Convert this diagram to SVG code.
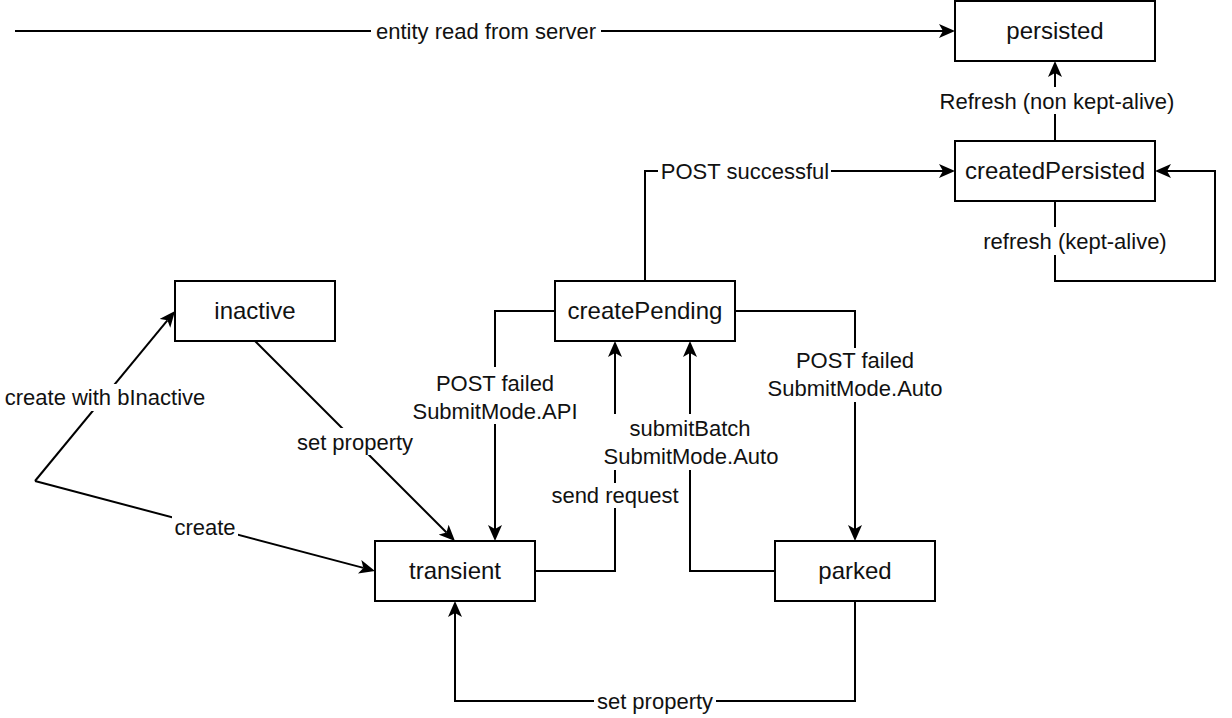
<svg xmlns="http://www.w3.org/2000/svg" width="1232" height="718" viewBox="0 0 1232 718">
<style>
.node rect{fill:#fff;stroke:#000;stroke-width:2}
.node text{font-family:"Liberation Sans",Arial,sans-serif;font-size:24px;fill:#111;text-anchor:middle}
.edge path{fill:none;stroke:#000;stroke-width:2;marker-end:url(#arr)}
.lbl rect{fill:#fff;stroke:none}
.lbl text{font-family:"Liberation Sans",Arial,sans-serif;font-size:22px;fill:#111;text-anchor:middle}
</style>
<defs>
<marker id="arr" markerUnits="userSpaceOnUse" markerWidth="16" markerHeight="14" viewBox="0 0 16 14" refX="4" refY="7" orient="auto">
<path d="M16,7 L0,0 L4,7 L0,14 Z" fill="#000"/>
</marker>
</defs>
<rect width="1232" height="718" fill="#fff"/>
<g id="connectors">
<g class="edge" id="e-read"><path d="M15,31 H943"/><g class="lbl"><rect x="371" y="18" width="230" height="26"/><text x="486" y="38.7">entity read from server</text></g></g>
<g class="edge" id="e-refresh-non"><path d="M1055,141 V73"/><g class="lbl"><rect x="937" y="87" width="240" height="27"/><text x="1057" y="108.7">Refresh (non kept-alive)</text></g></g>
<g class="edge" id="e-post-ok"><path d="M645,281 V171 H943"/><g class="lbl"><rect x="658" y="158" width="173" height="26"/><text x="745" y="178.7">POST successful</text></g></g>
<g class="edge" id="e-refresh-kept"><path d="M1055,201 V281 H1215 V171 H1167"/><g class="lbl"><rect x="980" y="227" width="190" height="28"/><text x="1075" y="248.7">refresh (kept-alive)</text></g></g>
<g class="edge" id="e-fail-api"><path d="M555,311 H495 V529"/><g class="lbl"><rect x="410" y="367" width="171" height="57"/><text x="495" y="390.7">POST failed</text><text x="495" y="418.7">SubmitMode.API</text></g></g>
<g class="edge" id="e-fail-auto"><path d="M735,311 H855 V529"/><g class="lbl"><rect x="765" y="348" width="180" height="54"/><text x="855" y="367.7">POST failed</text><text x="855" y="395.7">SubmitMode.Auto</text></g></g>
<g class="edge" id="e-send"><path d="M535,571 H615 V353"/><g class="lbl"><rect x="549" y="483" width="132" height="25"/><text x="615" y="502.7">send request</text></g></g>
<g class="edge" id="e-batch"><path d="M775,571 H690 V353"/><g class="lbl"><rect x="602" y="414" width="178" height="56"/><text x="690" y="436.2">submitBatch</text><text x="691" y="464.2">SubmitMode.Auto</text></g></g>
<g class="edge" id="e-parked-set"><path d="M855,601 V701 H455 V613"/><g class="lbl"><rect x="594" y="688" width="122" height="26"/><text x="655" y="708.7">set property</text></g></g>
<g class="edge" id="e-inactive-set"><path d="M255,341 L446.5,532.5"/><g class="lbl"><rect x="295" y="428" width="120" height="27"/><text x="355" y="449.7">set property</text></g></g>
<g class="edge" id="e-create-inactive"><path d="M35,481 L167.4,320.3"/><g class="lbl"><rect x="2" y="384" width="206" height="27"/><text x="105" y="404.7">create with bInactive</text></g></g>
<g class="edge" id="e-create"><path d="M35,481 L363.4,567.9"/><g class="lbl"><rect x="172" y="515" width="66" height="23"/><text x="205" y="534.7">create</text></g></g>
</g>
<g class="node" id="persisted"><rect x="955" y="1" width="200" height="60"/><text x="1055" y="39.3">persisted</text></g>
<g class="node" id="createdPersisted"><rect x="955" y="141" width="200" height="60"/><text x="1055" y="179.3">createdPersisted</text></g>
<g class="node" id="inactive"><rect x="175" y="281" width="160" height="60"/><text x="255" y="319.3">inactive</text></g>
<g class="node" id="createPending"><rect x="555" y="281" width="180" height="60"/><text x="645" y="319.3">createPending</text></g>
<g class="node" id="transient"><rect x="375" y="541" width="160" height="60"/><text x="455" y="579.3">transient</text></g>
<g class="node" id="parked"><rect x="775" y="541" width="160" height="60"/><text x="855" y="579.3">parked</text></g>
</svg>
